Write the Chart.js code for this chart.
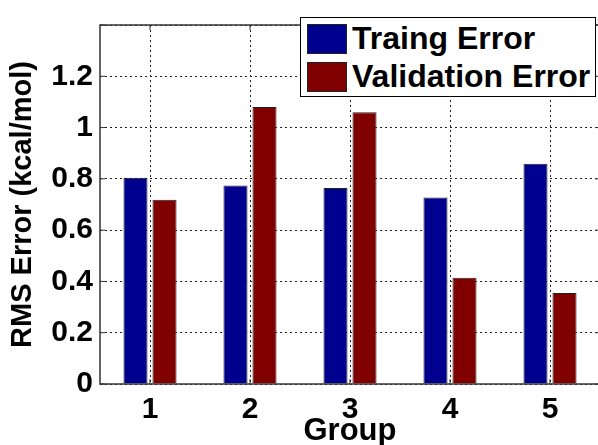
<html>
<head>
    <title>RMS Error by Group</title>
    <script src="https://cdn.jsdelivr.net/npm/chart.js"></script>
    <style>
        body { margin: 0; overflow: hidden; background: #fff; font-family: 'Liberation Sans', Arial, sans-serif; }
        #wrap { position: relative; width: 598px; height: 445px; overflow: hidden; }
        #legend { position: absolute; left: 300px; top: 17px; width: 294px; height: 78px; border: 1px solid #000; background: #fff; }
        .item { position: absolute; left: 6px; height: 30px; }
        .swatch { position: absolute; left: 0; top: 0; width: 38px; height: 28px; border: 1px solid #222; }
        .label { position: absolute; left: 45px; top: -4px; font-weight: bold; font-size: 32px; line-height: 36px; white-space: nowrap; color: #000; }
    </style>
</head>
<body>
<div id="wrap">
    <canvas id="myChart" width="600" height="445"></canvas>
    <div id="legend"></div>
</div>
<script>
    // values
    let groups = ['1', '2', '3', '4', '5'];
    let trainingError = [0.804, 0.774, 0.764, 0.727, 0.859];
    let validationError = [0.719, 1.080, 1.060, 0.414, 0.355];
    let seriesNames = ['Traing Error', 'Validation Error'];
    let seriesColors = ['#00008f', '#800000'];

    let family = "'Liberation Sans', Arial, sans-serif";
    let tickFont = { family: family, size: 30, weight: 'bold' };
    let dots = [2, 3];

    // box round the plot plus the small inward ticks, like the MATLAB axes
    let boxPlugin = {
        id: 'box',
        afterDraw(chart) {
            let a = chart.chartArea;
            let ctx = chart.ctx;
            ctx.save();
            ctx.strokeStyle = '#333';
            ctx.lineWidth = 1.5;
            ctx.strokeRect(a.left, a.top, a.right - a.left, a.bottom - a.top);
            ctx.lineWidth = 1;
            chart.scales.x.ticks.forEach((t, i) => {
                let px = chart.scales.x.getPixelForTick(i);
                ctx.beginPath();
                ctx.moveTo(px, a.top); ctx.lineTo(px, a.top + 5);
                ctx.moveTo(px, a.bottom); ctx.lineTo(px, a.bottom - 5);
                ctx.stroke();
            });
            chart.scales.y.ticks.forEach((t, i) => {
                let py = chart.scales.y.getPixelForTick(i);
                ctx.beginPath();
                ctx.moveTo(a.left, py); ctx.lineTo(a.left + 5, py);
                ctx.moveTo(a.right, py); ctx.lineTo(a.right - 5, py);
                ctx.stroke();
            });
            ctx.restore();
        }
    };

    let ctx = document.getElementById('myChart').getContext('2d');
    let myChart = new Chart(ctx, {
        type: 'bar',
        data: {
            labels: groups,
            datasets: [{
                label: seriesNames[0],
                data: trainingError,
                backgroundColor: seriesColors[0],
                borderColor: '#222',
                borderWidth: 1,
                barPercentage: 0.83,
                categoryPercentage: 0.58
            }, {
                label: seriesNames[1],
                data: validationError,
                backgroundColor: seriesColors[1],
                borderColor: '#222',
                borderWidth: 1,
                barPercentage: 0.83,
                categoryPercentage: 0.58
            }]
        },
        options: {
            responsive: false,
            animation: false,
            layout: { padding: { top: 11, left: 0, right: 0, bottom: 0 } },
            plugins: {
                legend: { display: false },
                tooltip: { enabled: false }
            },
            scales: {
                x: {
                    offset: true,
                    grid: { offset: false, drawTicks: false, color: '#222', lineWidth: 1, borderDash: dots },
                    border: { display: false, dash: dots },
                    ticks: { color: '#000', font: tickFont, padding: 8, maxRotation: 0 },
                    title: { display: true, text: 'Group', color: '#000', font: { family: family, size: 31, weight: 'bold', lineHeight: 1 }, padding: { top: 0, bottom: -2 } },
                    afterFit(scale) { scale.height = 61; }
                },
                y: {
                    min: 0,
                    max: 1.4,
                    ticks: {
                        stepSize: 0.2,
                        color: '#000',
                        font: tickFont,
                        padding: 7,
                        callback: v => (Math.abs(v - 1.4) < 1e-6 ? '' : Math.round(v * 10) / 10)
                    },
                    grid: { drawTicks: false, color: '#222', lineWidth: 1, borderDash: dots },
                    border: { display: false, dash: dots },
                    title: { display: true, text: 'RMS Error (kcal/mol)', color: '#000', font: { family: family, size: 29, weight: 'bold', lineHeight: 1 }, padding: { top: 8, bottom: 0 } },
                    afterFit(scale) { scale.width = 100; }
                }
            }
        },
        plugins: [boxPlugin]
    });

    // legend drawn inside the plot, top right
    let legend = document.getElementById('legend');
    seriesNames.forEach((name, i) => {
        let item = document.createElement('div');
        item.className = 'item';
        item.style.top = (6 + i * 38) + 'px';
        item.innerHTML = '<div class="swatch" style="background:' + seriesColors[i] + '"></div><div class="label">' + name + '</div>';
        legend.appendChild(item);
    });
</script>
</body>
</html>
